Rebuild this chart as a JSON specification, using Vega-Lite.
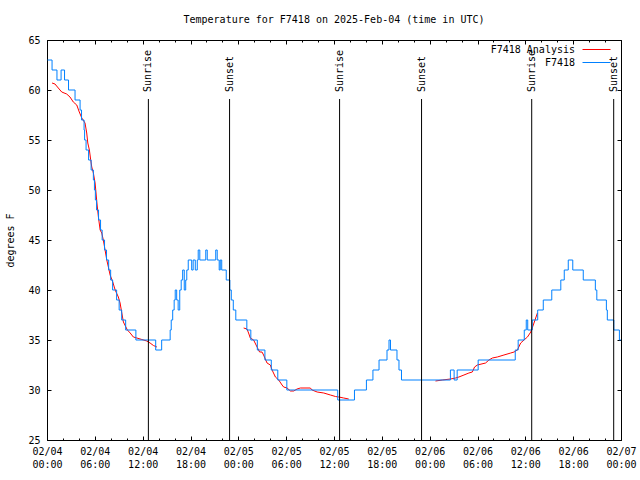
{
  "$schema": "https://vega.github.io/schema/vega-lite/v6.json",
  "width": 574,
  "height": 400,
  "autosize": {"type": "none"},
  "padding": {"left": 47, "top": 40, "right": 19, "bottom": 40},
  "title": {"text": "Temperature for F7418 on 2025-Feb-04 (time in UTC)", "font": "DejaVu Sans Mono", "fontSize": 10, "fontWeight": "normal", "color": "black", "offset": 10},
  "datasets": {
    "obs": [
      {"t": "2025-02-04T00:04:00Z", "temp": 63}, {"t": "2025-02-04T00:38:00Z", "temp": 62}, {"t": "2025-02-04T01:15:00Z", "temp": 61}, {"t": "2025-02-04T01:46:00Z", "temp": 62},
      {"t": "2025-02-04T02:12:00Z", "temp": 61}, {"t": "2025-02-04T02:42:00Z", "temp": 60}, {"t": "2025-02-04T03:31:00Z", "temp": 59}, {"t": "2025-02-04T04:09:00Z", "temp": 58},
      {"t": "2025-02-04T04:20:00Z", "temp": 57}, {"t": "2025-02-04T04:39:00Z", "temp": 56}, {"t": "2025-02-04T04:43:00Z", "temp": 55}, {"t": "2025-02-04T04:54:00Z", "temp": 54},
      {"t": "2025-02-04T05:13:00Z", "temp": 53}, {"t": "2025-02-04T05:32:00Z", "temp": 52}, {"t": "2025-02-04T05:49:00Z", "temp": 51}, {"t": "2025-02-04T05:57:00Z", "temp": 50},
      {"t": "2025-02-04T06:04:00Z", "temp": 49}, {"t": "2025-02-04T06:13:00Z", "temp": 48}, {"t": "2025-02-04T06:28:00Z", "temp": 47}, {"t": "2025-02-04T06:43:00Z", "temp": 46},
      {"t": "2025-02-04T06:55:00Z", "temp": 45}, {"t": "2025-02-04T07:13:00Z", "temp": 44}, {"t": "2025-02-04T07:28:00Z", "temp": 43}, {"t": "2025-02-04T07:44:00Z", "temp": 42},
      {"t": "2025-02-04T07:59:00Z", "temp": 41}, {"t": "2025-02-04T08:14:00Z", "temp": 40}, {"t": "2025-02-04T08:44:00Z", "temp": 39}, {"t": "2025-02-04T09:03:00Z", "temp": 38},
      {"t": "2025-02-04T09:22:00Z", "temp": 37}, {"t": "2025-02-04T09:52:00Z", "temp": 36}, {"t": "2025-02-04T11:09:00Z", "temp": 35}, {"t": "2025-02-04T13:38:00Z", "temp": 34},
      {"t": "2025-02-04T14:23:00Z", "temp": 35}, {"t": "2025-02-04T15:27:00Z", "temp": 36}, {"t": "2025-02-04T15:35:00Z", "temp": 37}, {"t": "2025-02-04T15:46:00Z", "temp": 38},
      {"t": "2025-02-04T15:57:00Z", "temp": 39}, {"t": "2025-02-04T16:05:00Z", "temp": 40}, {"t": "2025-02-04T16:16:00Z", "temp": 39}, {"t": "2025-02-04T16:27:00Z", "temp": 38},
      {"t": "2025-02-04T16:39:00Z", "temp": 40}, {"t": "2025-02-04T16:50:00Z", "temp": 41}, {"t": "2025-02-04T17:01:00Z", "temp": 42}, {"t": "2025-02-04T17:13:00Z", "temp": 40},
      {"t": "2025-02-04T17:24:00Z", "temp": 41}, {"t": "2025-02-04T17:32:00Z", "temp": 42}, {"t": "2025-02-04T17:43:00Z", "temp": 43}, {"t": "2025-02-04T18:09:00Z", "temp": 42},
      {"t": "2025-02-04T18:20:00Z", "temp": 43}, {"t": "2025-02-04T18:36:00Z", "temp": 42}, {"t": "2025-02-04T18:51:00Z", "temp": 43}, {"t": "2025-02-04T18:58:00Z", "temp": 44},
      {"t": "2025-02-04T19:10:00Z", "temp": 43}, {"t": "2025-02-04T19:55:00Z", "temp": 44}, {"t": "2025-02-04T20:06:00Z", "temp": 43}, {"t": "2025-02-04T21:10:00Z", "temp": 44},
      {"t": "2025-02-04T21:21:00Z", "temp": 43}, {"t": "2025-02-04T21:36:00Z", "temp": 42}, {"t": "2025-02-04T21:44:00Z", "temp": 43}, {"t": "2025-02-04T21:55:00Z", "temp": 42},
      {"t": "2025-02-04T22:29:00Z", "temp": 41}, {"t": "2025-02-04T22:56:00Z", "temp": 40}, {"t": "2025-02-04T23:07:00Z", "temp": 39}, {"t": "2025-02-04T23:22:00Z", "temp": 38},
      {"t": "2025-02-04T23:41:00Z", "temp": 37}, {"t": "2025-02-05T01:04:00Z", "temp": 36}, {"t": "2025-02-05T01:34:00Z", "temp": 35}, {"t": "2025-02-05T02:23:00Z", "temp": 34},
      {"t": "2025-02-05T03:20:00Z", "temp": 33}, {"t": "2025-02-05T04:08:00Z", "temp": 32}, {"t": "2025-02-05T04:57:00Z", "temp": 31}, {"t": "2025-02-05T06:05:00Z", "temp": 30},
      {"t": "2025-02-05T12:28:00Z", "temp": 29}, {"t": "2025-02-05T14:34:00Z", "temp": 30}, {"t": "2025-02-05T16:04:00Z", "temp": 31}, {"t": "2025-02-05T16:53:00Z", "temp": 32},
      {"t": "2025-02-05T17:39:00Z", "temp": 33}, {"t": "2025-02-05T18:39:00Z", "temp": 34}, {"t": "2025-02-05T18:54:00Z", "temp": 35}, {"t": "2025-02-05T19:05:00Z", "temp": 34},
      {"t": "2025-02-05T19:54:00Z", "temp": 33}, {"t": "2025-02-05T20:09:00Z", "temp": 32}, {"t": "2025-02-05T20:28:00Z", "temp": 31}, {"t": "2025-02-06T02:36:00Z", "temp": 32},
      {"t": "2025-02-06T03:04:00Z", "temp": 31}, {"t": "2025-02-06T03:27:00Z", "temp": 32}, {"t": "2025-02-06T06:05:00Z", "temp": 33}, {"t": "2025-02-06T10:44:00Z", "temp": 34},
      {"t": "2025-02-06T11:06:00Z", "temp": 35}, {"t": "2025-02-06T11:52:00Z", "temp": 36}, {"t": "2025-02-06T12:07:00Z", "temp": 37}, {"t": "2025-02-06T12:18:00Z", "temp": 36},
      {"t": "2025-02-06T12:52:00Z", "temp": 37}, {"t": "2025-02-06T13:33:00Z", "temp": 38}, {"t": "2025-02-06T14:15:00Z", "temp": 39}, {"t": "2025-02-06T15:19:00Z", "temp": 40},
      {"t": "2025-02-06T16:27:00Z", "temp": 41}, {"t": "2025-02-06T16:53:00Z", "temp": 42}, {"t": "2025-02-06T17:23:00Z", "temp": 43}, {"t": "2025-02-06T17:57:00Z", "temp": 42},
      {"t": "2025-02-06T19:16:00Z", "temp": 41}, {"t": "2025-02-06T20:47:00Z", "temp": 40}, {"t": "2025-02-06T20:58:00Z", "temp": 39}, {"t": "2025-02-06T22:10:00Z", "temp": 38},
      {"t": "2025-02-06T22:17:00Z", "temp": 37}, {"t": "2025-02-06T23:06:00Z", "temp": 36}, {"t": "2025-02-06T23:48:00Z", "temp": 35}, {"t": "2025-02-06T23:59:00Z", "temp": 35}
    ],
    "analysis": [
      {"t": "2025-02-04T00:38:00Z", "temp": 60.7, "seg": 1}, {"t": "2025-02-04T01:00:00Z", "temp": 60.6, "seg": 1}, {"t": "2025-02-04T01:25:00Z", "temp": 60.2, "seg": 1},
      {"t": "2025-02-04T01:51:00Z", "temp": 59.8, "seg": 1}, {"t": "2025-02-04T02:28:00Z", "temp": 59.6, "seg": 1}, {"t": "2025-02-04T02:53:00Z", "temp": 59.3, "seg": 1},
      {"t": "2025-02-04T03:18:00Z", "temp": 58.8, "seg": 1}, {"t": "2025-02-04T03:44:00Z", "temp": 58.5, "seg": 1}, {"t": "2025-02-04T04:03:00Z", "temp": 57.8, "seg": 1},
      {"t": "2025-02-04T04:22:00Z", "temp": 57.2, "seg": 1}, {"t": "2025-02-04T04:46:00Z", "temp": 56.7, "seg": 1}, {"t": "2025-02-04T04:59:00Z", "temp": 55.7, "seg": 1},
      {"t": "2025-02-04T05:07:00Z", "temp": 54.7, "seg": 1}, {"t": "2025-02-04T05:19:00Z", "temp": 54.0, "seg": 1}, {"t": "2025-02-04T05:29:00Z", "temp": 53.0, "seg": 1},
      {"t": "2025-02-04T05:37:00Z", "temp": 52.3, "seg": 1}, {"t": "2025-02-04T05:49:00Z", "temp": 51.7, "seg": 1}, {"t": "2025-02-04T06:02:00Z", "temp": 50.7, "seg": 1},
      {"t": "2025-02-04T06:09:00Z", "temp": 49.7, "seg": 1}, {"t": "2025-02-04T06:15:00Z", "temp": 48.8, "seg": 1}, {"t": "2025-02-04T06:27:00Z", "temp": 47.3, "seg": 1},
      {"t": "2025-02-04T06:40:00Z", "temp": 46.0, "seg": 1}, {"t": "2025-02-04T06:52:00Z", "temp": 45.7, "seg": 1}, {"t": "2025-02-04T07:04:00Z", "temp": 45.0, "seg": 1},
      {"t": "2025-02-04T07:17:00Z", "temp": 44.0, "seg": 1}, {"t": "2025-02-04T07:30:00Z", "temp": 43.0, "seg": 1}, {"t": "2025-02-04T07:42:00Z", "temp": 42.3, "seg": 1},
      {"t": "2025-02-04T07:55:00Z", "temp": 41.5, "seg": 1}, {"t": "2025-02-04T08:15:00Z", "temp": 40.8, "seg": 1}, {"t": "2025-02-04T08:33:00Z", "temp": 40.0, "seg": 1},
      {"t": "2025-02-04T08:57:00Z", "temp": 39.3, "seg": 1}, {"t": "2025-02-04T09:10:00Z", "temp": 38.7, "seg": 1}, {"t": "2025-02-04T09:23:00Z", "temp": 37.7, "seg": 1},
      {"t": "2025-02-04T09:35:00Z", "temp": 36.8, "seg": 1}, {"t": "2025-02-04T10:05:00Z", "temp": 36.0, "seg": 1}, {"t": "2025-02-04T10:26:00Z", "temp": 35.7, "seg": 1},
      {"t": "2025-02-04T10:50:00Z", "temp": 35.3, "seg": 1}, {"t": "2025-02-04T11:16:00Z", "temp": 35.2, "seg": 1}, {"t": "2025-02-04T11:54:00Z", "temp": 35.05, "seg": 1},
      {"t": "2025-02-04T12:31:00Z", "temp": 34.9, "seg": 1}, {"t": "2025-02-04T12:56:00Z", "temp": 34.7, "seg": 1}, {"t": "2025-02-04T13:21:00Z", "temp": 34.45, "seg": 1},
      {"t": "2025-02-04T13:47:00Z", "temp": 34.3, "seg": 1},
      {"t": "2025-02-05T00:40:00Z", "temp": 36.2, "seg": 2}, {"t": "2025-02-05T01:05:00Z", "temp": 36.1, "seg": 2}, {"t": "2025-02-05T01:17:00Z", "temp": 35.7, "seg": 2},
      {"t": "2025-02-05T01:30:00Z", "temp": 35.2, "seg": 2}, {"t": "2025-02-05T01:55:00Z", "temp": 35.0, "seg": 2}, {"t": "2025-02-05T02:21:00Z", "temp": 34.3, "seg": 2},
      {"t": "2025-02-05T02:40:00Z", "temp": 33.8, "seg": 2}, {"t": "2025-02-05T02:58:00Z", "temp": 33.8, "seg": 2}, {"t": "2025-02-05T03:10:00Z", "temp": 33.5, "seg": 2},
      {"t": "2025-02-05T03:36:00Z", "temp": 32.7, "seg": 2}, {"t": "2025-02-05T04:01:00Z", "temp": 32.5, "seg": 2}, {"t": "2025-02-05T04:14:00Z", "temp": 32.0, "seg": 2},
      {"t": "2025-02-05T04:39:00Z", "temp": 31.3, "seg": 2}, {"t": "2025-02-05T05:04:00Z", "temp": 31.0, "seg": 2}, {"t": "2025-02-05T05:29:00Z", "temp": 30.5, "seg": 2},
      {"t": "2025-02-05T05:41:00Z", "temp": 30.3, "seg": 2}, {"t": "2025-02-05T06:07:00Z", "temp": 30.2, "seg": 2}, {"t": "2025-02-05T06:32:00Z", "temp": 29.9, "seg": 2},
      {"t": "2025-02-05T06:57:00Z", "temp": 29.9, "seg": 2}, {"t": "2025-02-05T07:22:00Z", "temp": 30.1, "seg": 2}, {"t": "2025-02-05T07:47:00Z", "temp": 30.2, "seg": 2},
      {"t": "2025-02-05T09:02:00Z", "temp": 30.2, "seg": 2}, {"t": "2025-02-05T09:15:00Z", "temp": 30.0, "seg": 2}, {"t": "2025-02-05T09:53:00Z", "temp": 29.8, "seg": 2},
      {"t": "2025-02-05T10:43:00Z", "temp": 29.7, "seg": 2}, {"t": "2025-02-05T11:33:00Z", "temp": 29.5, "seg": 2}, {"t": "2025-02-05T12:11:00Z", "temp": 29.35, "seg": 2},
      {"t": "2025-02-05T12:36:00Z", "temp": 29.3, "seg": 2}, {"t": "2025-02-05T13:13:00Z", "temp": 29.2, "seg": 2}, {"t": "2025-02-05T13:51:00Z", "temp": 29.1, "seg": 2},
      {"t": "2025-02-06T00:44:00Z", "temp": 30.9, "seg": 3}, {"t": "2025-02-06T01:35:00Z", "temp": 31.0, "seg": 3}, {"t": "2025-02-06T02:37:00Z", "temp": 31.1, "seg": 3},
      {"t": "2025-02-06T03:15:00Z", "temp": 31.2, "seg": 3}, {"t": "2025-02-06T03:40:00Z", "temp": 31.3, "seg": 3}, {"t": "2025-02-06T04:18:00Z", "temp": 31.5, "seg": 3},
      {"t": "2025-02-06T04:55:00Z", "temp": 31.7, "seg": 3}, {"t": "2025-02-06T05:21:00Z", "temp": 31.8, "seg": 3}, {"t": "2025-02-06T05:38:00Z", "temp": 32.3, "seg": 3},
      {"t": "2025-02-06T05:59:00Z", "temp": 32.5, "seg": 3}, {"t": "2025-02-06T07:01:00Z", "temp": 32.7, "seg": 3}, {"t": "2025-02-06T07:26:00Z", "temp": 33.0, "seg": 3},
      {"t": "2025-02-06T07:52:00Z", "temp": 33.2, "seg": 3}, {"t": "2025-02-06T08:29:00Z", "temp": 33.3, "seg": 3}, {"t": "2025-02-06T09:19:00Z", "temp": 33.5, "seg": 3},
      {"t": "2025-02-06T10:10:00Z", "temp": 33.7, "seg": 3}, {"t": "2025-02-06T10:35:00Z", "temp": 33.8, "seg": 3}, {"t": "2025-02-06T11:00:00Z", "temp": 34.0, "seg": 3},
      {"t": "2025-02-06T11:25:00Z", "temp": 34.7, "seg": 3}, {"t": "2025-02-06T11:50:00Z", "temp": 35.0, "seg": 3}, {"t": "2025-02-06T12:16:00Z", "temp": 35.3, "seg": 3},
      {"t": "2025-02-06T12:41:00Z", "temp": 35.8, "seg": 3}, {"t": "2025-02-06T13:05:00Z", "temp": 36.7, "seg": 3}, {"t": "2025-02-06T13:18:00Z", "temp": 37.2, "seg": 3},
      {"t": "2025-02-06T13:31:00Z", "temp": 37.7, "seg": 3}
    ],
    "sun": [
      {"t": "2025-02-04T12:43:00Z", "event": "Sunrise"}, {"t": "2025-02-04T22:54:00Z", "event": "Sunset"},
      {"t": "2025-02-05T12:42:00Z", "event": "Sunrise"}, {"t": "2025-02-05T22:59:00Z", "event": "Sunset"},
      {"t": "2025-02-06T12:48:00Z", "event": "Sunrise"}, {"t": "2025-02-06T23:05:00Z", "event": "Sunset"}
    ]
  },
  "resolve": {"axis": {"x": "independent", "y": "independent"}},
  "layer": [
    {
      "data": {"name": "analysis"},
      "mark": {"type": "line", "strokeWidth": 1},
      "encoding": {
        "x": {"field": "t", "type": "temporal",
          "scale": {"type": "utc", "domain": [1738627200000, 1738886400000], "nice": false},
          "axis": {"orient": "bottom", "ticks": false, "title": null,
            "values": [1738627200000, 1738648800000, 1738670400000, 1738692000000, 1738713600000, 1738735200000, 1738756800000, 1738778400000, 1738800000000, 1738821600000, 1738843200000, 1738864800000, 1738886400000],
            "labelExpr": "[utcFormat(datum.value, '%m/%d'), utcFormat(datum.value, '%H:%M')]", "labelPadding": 6, "labelLineHeight": 13, "labelFlush": false, "labelOverlap": false}},
        "y": {"field": "temp", "type": "quantitative",
          "scale": {"domain": [25, 65], "nice": false, "zero": false},
          "axis": {"orient": "left", "ticks": false, "values": [25, 30, 35, 40, 45, 50, 55, 60, 65], "labelPadding": 7, "title": "degrees F", "titlePadding": 12}},
        "detail": {"field": "seg"},
        "color": {"datum": "F7418 Analysis",
          "scale": {"domain": ["F7418 Analysis", "F7418"], "range": ["#ff0000", "#0080ff"]},
          "legend": {"orient": "none", "legendX": 542, "legendY": 2, "direction": "vertical", "title": null, "symbolType": "M-2,0H2", "symbolSize": 196, "symbolStrokeWidth": 1, "symbolOpacity": 1, "labelAlign": "right", "labelOffset": -29, "padding": 0, "rowPadding": 0, "labelFont": "DejaVu Sans Mono", "labelFontSize": 10, "labelColor": "black"}}
      }
    },
    {
      "data": {"name": "obs"},
      "mark": {"type": "line", "interpolate": "step-after", "strokeWidth": 1},
      "encoding": {
        "x": {"field": "t", "type": "temporal", "axis": {"orient": "bottom", "labels": false, "tickSize": -4, "title": null,
          "values": [1738627200000, 1738648800000, 1738670400000, 1738692000000, 1738713600000, 1738735200000, 1738756800000, 1738778400000, 1738800000000, 1738821600000, 1738843200000, 1738864800000, 1738886400000]}},
        "y": {"field": "temp", "type": "quantitative", "axis": {"orient": "left", "labels": false, "tickSize": -4, "title": null, "values": [25, 30, 35, 40, 45, 50, 55, 60, 65]}},
        "color": {"datum": "F7418"}
      }
    },
    {
      "data": {"name": "sun"},
      "mark": {"type": "rule", "color": "black", "strokeWidth": 1},
      "encoding": {
        "x": {"field": "t", "type": "temporal", "axis": {"orient": "top", "labels": false, "tickSize": -4, "title": null,
          "values": [1738627200000, 1738648800000, 1738670400000, 1738692000000, 1738713600000, 1738735200000, 1738756800000, 1738778400000, 1738800000000, 1738821600000, 1738843200000, 1738864800000, 1738886400000]}},
        "y": {"datum": 59.1, "type": "quantitative", "axis": {"orient": "right", "labels": false, "tickSize": -4, "title": null, "values": [25, 30, 35, 40, 45, 50, 55, 60, 65]}},
        "y2": {"datum": 25}
      }
    },
    {
      "data": {"name": "sun"},
      "transform": [{"filter": "datum.event === 'Sunrise'"}],
      "mark": {"type": "text", "angle": 270, "align": "left", "baseline": "middle", "font": "DejaVu Sans Mono", "fontSize": 10, "color": "black"},
      "encoding": {
        "x": {"field": "t", "type": "temporal", "axis": {"orient": "bottom", "labels": false, "tickSize": -2, "title": null,
          "values": [1738627200000, 1738634400000, 1738641600000, 1738648800000, 1738656000000, 1738663200000, 1738670400000, 1738677600000, 1738684800000, 1738692000000, 1738699200000, 1738706400000, 1738713600000, 1738720800000, 1738728000000, 1738735200000, 1738742400000, 1738749600000, 1738756800000, 1738764000000, 1738771200000, 1738778400000, 1738785600000, 1738792800000, 1738800000000, 1738807200000, 1738814400000, 1738821600000, 1738828800000, 1738836000000, 1738843200000, 1738850400000, 1738857600000, 1738864800000, 1738872000000, 1738879200000, 1738886400000]}},
        "y": {"datum": 59.8, "type": "quantitative", "axis": null},
        "text": {"field": "event"}
      }
    },
    {
      "data": {"name": "sun"},
      "transform": [{"filter": "datum.event === 'Sunset'"}],
      "mark": {"type": "text", "angle": 270, "align": "left", "baseline": "middle", "font": "DejaVu Sans Mono", "fontSize": 10, "color": "black"},
      "encoding": {
        "x": {"field": "t", "type": "temporal", "axis": {"orient": "top", "labels": false, "tickSize": -2, "title": null,
          "values": [1738627200000, 1738634400000, 1738641600000, 1738648800000, 1738656000000, 1738663200000, 1738670400000, 1738677600000, 1738684800000, 1738692000000, 1738699200000, 1738706400000, 1738713600000, 1738720800000, 1738728000000, 1738735200000, 1738742400000, 1738749600000, 1738756800000, 1738764000000, 1738771200000, 1738778400000, 1738785600000, 1738792800000, 1738800000000, 1738807200000, 1738814400000, 1738821600000, 1738828800000, 1738836000000, 1738843200000, 1738850400000, 1738857600000, 1738864800000, 1738872000000, 1738879200000, 1738886400000]}},
        "y": {"datum": 59.8, "type": "quantitative", "axis": null},
        "text": {"field": "event"}
      }
    }
  ],
  "config": {
    "view": {"stroke": "black", "strokeWidth": 1},
    "axis": {"domain": false, "grid": false, "labelFont": "DejaVu Sans Mono", "labelFontSize": 10, "labelColor": "black", "tickColor": "black", "tickWidth": 1, "titleFont": "DejaVu Sans Mono", "titleFontSize": 10, "titleFontWeight": "normal", "titleColor": "black"}
  }
}
